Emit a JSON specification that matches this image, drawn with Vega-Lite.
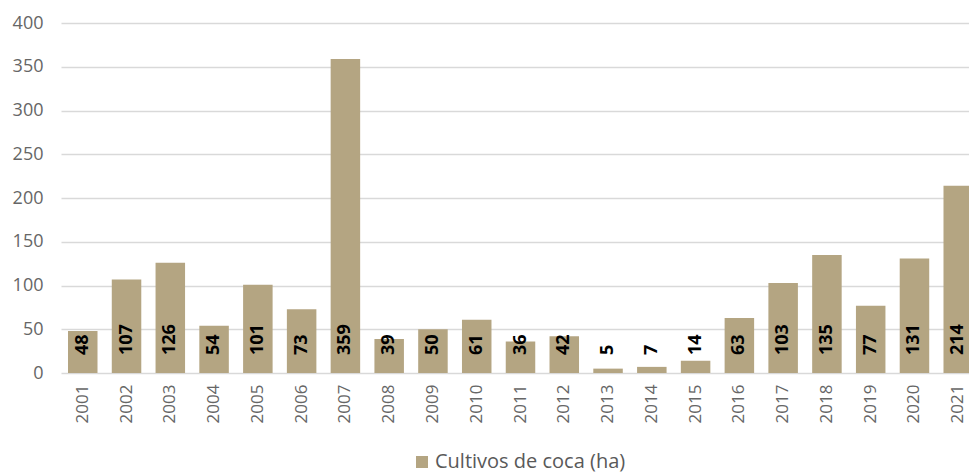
{
  "$schema": "https://vega.github.io/schema/vega-lite/v6.json",
  "width": 908,
  "height": 350,
  "autosize": {"type": "none"},
  "padding": {"left": 61, "top": 23, "right": 0, "bottom": 101},
  "background": "white",
  "config": {
    "view": {"stroke": null},
    "font": "Open Sans"
  },
  "data": {
    "values": [
      {"year": "2001", "ha": 48, "serie": "Cultivos de coca (ha)"},
      {"year": "2002", "ha": 107, "serie": "Cultivos de coca (ha)"},
      {"year": "2003", "ha": 126, "serie": "Cultivos de coca (ha)"},
      {"year": "2004", "ha": 54, "serie": "Cultivos de coca (ha)"},
      {"year": "2005", "ha": 101, "serie": "Cultivos de coca (ha)"},
      {"year": "2006", "ha": 73, "serie": "Cultivos de coca (ha)"},
      {"year": "2007", "ha": 359, "serie": "Cultivos de coca (ha)"},
      {"year": "2008", "ha": 39, "serie": "Cultivos de coca (ha)"},
      {"year": "2009", "ha": 50, "serie": "Cultivos de coca (ha)"},
      {"year": "2010", "ha": 61, "serie": "Cultivos de coca (ha)"},
      {"year": "2011", "ha": 36, "serie": "Cultivos de coca (ha)"},
      {"year": "2012", "ha": 42, "serie": "Cultivos de coca (ha)"},
      {"year": "2013", "ha": 5, "serie": "Cultivos de coca (ha)"},
      {"year": "2014", "ha": 7, "serie": "Cultivos de coca (ha)"},
      {"year": "2015", "ha": 14, "serie": "Cultivos de coca (ha)"},
      {"year": "2016", "ha": 63, "serie": "Cultivos de coca (ha)"},
      {"year": "2017", "ha": 103, "serie": "Cultivos de coca (ha)"},
      {"year": "2018", "ha": 135, "serie": "Cultivos de coca (ha)"},
      {"year": "2019", "ha": 77, "serie": "Cultivos de coca (ha)"},
      {"year": "2020", "ha": 131, "serie": "Cultivos de coca (ha)"},
      {"year": "2021", "ha": 214, "serie": "Cultivos de coca (ha)"}
    ]
  },
  "encoding": {
    "x": {
      "field": "year",
      "type": "nominal",
      "sort": null,
      "scale": {"range": [0, 919], "paddingInner": 0.326, "paddingOuter": 0.16},
      "axis": {
        "title": null,
        "labelAngle": -90,
        "labelAlign": "right",
        "labelBaseline": "middle",
        "labelFont": "Open Sans",
        "labelFontSize": 17,
        "labelColor": "#666666",
        "labelPadding": 11,
        "ticks": false,
        "domain": false,
        "grid": false
      }
    }
  },
  "layer": [
    {
      "mark": {"type": "bar", "color": "#b4a582", "clip": true},
      "encoding": {
        "y": {
          "field": "ha",
          "type": "quantitative",
          "scale": {"domain": [0, 400]},
          "axis": {
            "title": null,
            "values": [0, 50, 100, 150, 200, 250, 300, 350, 400],
            "labelFont": "Open Sans",
            "labelFontSize": 18,
            "labelColor": "#666666",
            "labelPadding": 18,
            "ticks": false,
            "domain": false,
            "grid": true,
            "gridColor": "#d9d9d9",
            "gridWidth": 1.5
          }
        },
        "fill": {
          "field": "serie",
          "type": "nominal",
          "scale": {"range": ["#b4a582"]},
          "legend": {
            "title": null,
            "orient": "none",
            "legendX": 351,
            "legendY": 429,
            "padding": 0,
            "symbolType": "square",
            "symbolSize": 144,
            "symbolStrokeWidth": 0,
            "labelFont": "Open Sans",
            "labelFontSize": 20,
            "labelColor": "#595959",
            "labelOffset": 3,
            "labelLimit": 400
          }
        }
      }
    },
    {
      "mark": {
        "type": "text",
        "angle": 270,
        "align": "left",
        "baseline": "middle",
        "dx": 18,
        "font": "Open Sans",
        "fontSize": 18,
        "fontWeight": "bold",
        "color": "#000000",
        "clip": true
      },
      "encoding": {
        "y": {"datum": 0, "type": "quantitative"},
        "text": {"field": "ha", "type": "quantitative"}
      }
    }
  ]
}
